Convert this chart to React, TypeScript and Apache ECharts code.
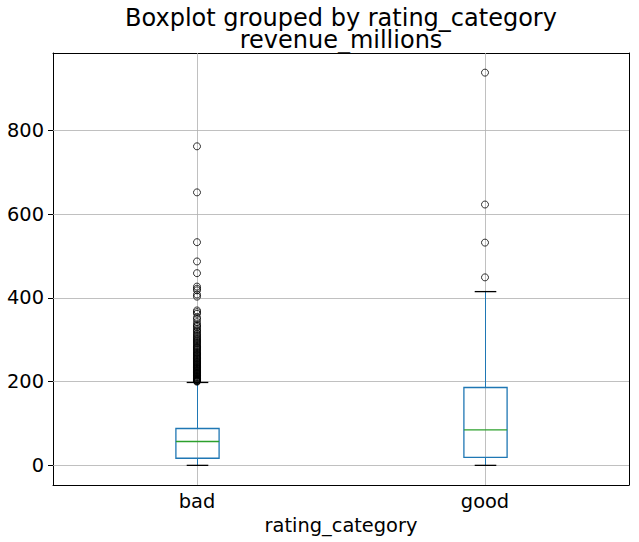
import React, { useEffect, useRef } from "react";
import * as echarts from "echarts";

const categories = ["bad", "good"];
// [min whisker, q1, median, q3, max whisker]
const badStats = [0, 17, 57, 88, 198];
const goodStats = [0, 19, 85, 186, 415];
const badOutliers = [
  762, 652, 533, 487, 459, 427, 422, 418, 408, 403, 370, 366, 362, 353, 349,
  342, 336, 333, 330, 325, 322, 319, 315, 312, 309, 306, 303, 301, 298, 296,
  293, 291, 288, 285, 283, 281, 279, 277, 275, 272, 270, 268, 266, 264, 262,
  260, 258, 256, 255, 253, 251, 249, 247, 246, 244, 242, 241, 239, 237, 236,
  234, 233, 231, 230, 228, 227, 225, 224, 222, 221, 219, 218, 217, 215, 214,
  212, 211, 210, 208, 207, 206, 205, 204, 203, 202, 201, 200,
];
const goodOutliers = [938, 623, 532, 449];
const yTicks = [0, 200, 400, 600, 800];
const yMin = -46.9;
const yMax = 984.9;

const FONT = "DejaVu Sans";

function renderItem(params: any, api: any) {
  const idx = api.value(0);
  const lo = api.coord([idx, api.value(1)]);
  const q1 = api.coord([idx, api.value(2)]);
  const med = api.coord([idx, api.value(3)]);
  const q3 = api.coord([idx, api.value(4)]);
  const hi = api.coord([idx, api.value(5)]);
  const band = api.size([1, 0])[0];
  const w = band * 0.15;
  const cw = w / 2;
  const cx = Math.round(lo[0]) + 0.5;
  const blue = "#1f77b4";
  return {
    type: "group",
    children: [
      {
        type: "line",
        shape: { x1: cx, y1: q3[1], x2: cx, y2: hi[1] },
        style: { stroke: blue, lineWidth: 1 },
      },
      {
        type: "line",
        shape: { x1: cx, y1: q1[1], x2: cx, y2: lo[1] },
        style: { stroke: blue, lineWidth: 1 },
      },
      {
        type: "rect",
        shape: { x: cx - w / 2, y: q3[1], width: w, height: q1[1] - q3[1] },
        style: { fill: "none", stroke: blue, lineWidth: 1.3 },
      },
      {
        type: "line",
        shape: { x1: cx - w / 2, y1: med[1], x2: cx + w / 2, y2: med[1] },
        style: { stroke: "#2ca02c", lineWidth: 1.3 },
      },
      {
        type: "line",
        shape: { x1: cx - cw / 2, y1: hi[1], x2: cx + cw / 2, y2: hi[1] },
        style: { stroke: "#000", lineWidth: 1.3 },
      },
      {
        type: "line",
        shape: { x1: cx - cw / 2, y1: lo[1], x2: cx + cw / 2, y2: lo[1] },
        style: { stroke: "#000", lineWidth: 1.3 },
      },
    ],
  };
}

export default function App() {
  const ref = useRef<HTMLDivElement>(null);
  useEffect(() => {
    const chart = echarts.init(ref.current!, null, { renderer: "svg" });
    const boxData = [badStats, goodStats].map((s, i) => [i, ...s]);
    const outlierData = [
      ...badOutliers.map((v) => [0, v]),
      ...goodOutliers.map((v) => [1, v]),
    ];
    const labelStyle = { fontSize: 19.4, color: "#000", fontFamily: FONT };
    chart.setOption({
      animation: false,
      backgroundColor: "#fff",
      grid: { left: 53, right: 10, top: 53, bottom: 57, containLabel: false },
      graphic: [
        {
          type: "text",
          x: 341,
          y: 17.5,
          style: {
            text: "Boxplot grouped by rating_category",
            fontSize: 24,
            fontFamily: FONT,
            fill: "#000",
            align: "center",
            verticalAlign: "middle",
          },
        },
        {
          type: "text",
          x: 341,
          y: 39.5,
          style: {
            text: "revenue_millions",
            fontSize: 24,
            fontFamily: FONT,
            fill: "#000",
            align: "center",
            verticalAlign: "middle",
          },
        },
      ],
      xAxis: [
        {
          type: "category",
          data: categories,
          position: "bottom",
          boundaryGap: true,
          axisLine: { onZero: false, lineStyle: { color: "#000", width: 1 } },
          axisTick: { alignWithLabel: true, length: 5, lineStyle: { color: "#000" } },
          axisLabel: { ...labelStyle, margin: 7 },
          splitLine: { show: false },
          name: "rating_category",
          nameLocation: "middle",
          nameGap: 25,
          nameTextStyle: labelStyle,
        },
        {
          type: "category",
          data: categories,
          position: "top",
          boundaryGap: true,
          axisLine: { show: true, onZero: false, lineStyle: { color: "#000", width: 1 } },
          axisTick: { show: false },
          axisLabel: { show: false },
          splitLine: { show: false },
        },
      ],
      yAxis: [
        {
          type: "value",
          min: yMin,
          max: yMax,
          position: "left",
          axisLine: { show: true, onZero: false, lineStyle: { color: "#000", width: 1 } },
          axisTick: { show: true, customValues: yTicks, length: 5, lineStyle: { color: "#000" } },
          axisLabel: { ...labelStyle, customValues: yTicks, margin: 9 },
          splitLine: { show: false },
        },
        {
          type: "value",
          min: yMin,
          max: yMax,
          position: "right",
          axisLine: { show: true, onZero: false, lineStyle: { color: "#000", width: 1 } },
          axisTick: { show: false },
          axisLabel: { show: false },
          splitLine: { show: false },
        },
      ],
      series: [
        {
          type: "scatter",
          xAxisIndex: 0,
          yAxisIndex: 0,
          data: outlierData,
          symbol: "circle",
          symbolSize: 7,
          itemStyle: { color: "rgba(0,0,0,0)", borderColor: "#000", borderWidth: 1 },
          emphasis: { disabled: true },
          silent: true,
          z: 3,
          markLine: {
            silent: true,
            symbol: "none",
            z: 1,
            label: { show: false },
            lineStyle: { color: "#b0b0b0", width: 0.8, type: "solid" },
            emphasis: { disabled: true },
            data: [
              ...yTicks.map((v) => ({ yAxis: v })),
              ...categories.map((c) => ({ xAxis: c })),
            ],
          },
        },
        {
          type: "custom",
          xAxisIndex: 0,
          yAxisIndex: 0,
          data: boxData,
          renderItem,
          encode: { x: 0, y: [1, 2, 3, 4, 5] },
          silent: true,
          z: 2,
        },
      ],
    });
    return () => chart.dispose();
  }, []);
  return (
    <div
      ref={ref}
      style={{ position: "fixed", left: 0, top: 0, width: 639, height: 542 }}
    />
  );
}
